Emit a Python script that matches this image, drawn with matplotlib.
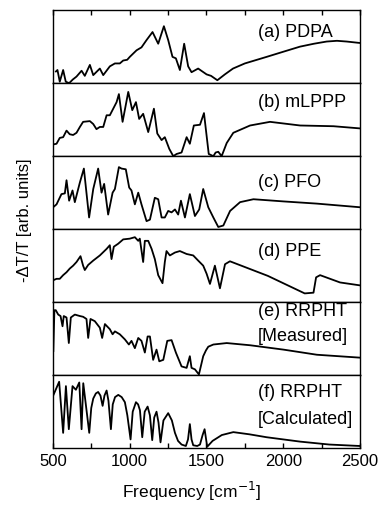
import matplotlib
matplotlib.use('Agg')
import matplotlib.pyplot as plt
from matplotlib.ticker import MultipleLocator

plt.rcParams['font.family'] = ['Liberation Sans', 'DejaVu Sans']

# spectra: frequency (cm-1) and relative height in panel (0..1)
pdpa_f = [520, 530, 545, 567, 584, 606, 630, 654, 687, 708, 741, 763, 806, 828,
          871, 904, 936, 958, 984, 1001, 1045, 1077, 1110, 1149, 1186, 1223, 1251,
          1279, 1301, 1327, 1355, 1381, 1403, 1446, 1501, 1530, 1571, 1620, 1673,
          1750, 1892, 2000, 2109, 2200, 2283, 2350, 2413, 2500]
pdpa_v = [0.16, 0.18, 0.02, 0.18, 0.02, 0.0, 0.05, 0.09, 0.17, 0.10, 0.25, 0.11,
          0.20, 0.11, 0.23, 0.27, 0.27, 0.31, 0.32, 0.36, 0.45, 0.49, 0.59, 0.70,
          0.54, 0.78, 0.59, 0.36, 0.34, 0.18, 0.54, 0.23, 0.15, 0.20, 0.12, 0.10,
          0.04, 0.12, 0.20, 0.27, 0.36, 0.43, 0.50, 0.54, 0.57, 0.58, 0.57, 0.55]

mlppp_f = [502, 524, 545, 567, 589, 610, 632, 654, 676, 697, 741, 763, 784, 806,
           828, 850, 871, 893, 915, 930, 954, 991, 1017, 1041, 1062, 1088, 1121,
           1158, 1180, 1208, 1229, 1258, 1284, 1306, 1338, 1371, 1392, 1418, 1458,
           1484, 1500, 1515, 1545, 1560, 1577, 1599, 1632, 1675, 1784, 1914, 2110,
           2327, 2500]
mlppp_v = [0.16, 0.17, 0.25, 0.26, 0.35, 0.30, 0.29, 0.32, 0.40, 0.47, 0.48, 0.44,
           0.37, 0.40, 0.40, 0.56, 0.56, 0.65, 0.74, 0.85, 0.47, 0.88, 0.63, 0.74,
           0.51, 0.58, 0.33, 0.65, 0.31, 0.22, 0.26, 0.10, 0.0, 0.03, 0.05, 0.26,
           0.17, 0.42, 0.43, 0.59, 0.30, 0.03, 0.0, 0.05, 0.06, 0.0, 0.18, 0.32,
           0.42, 0.47, 0.42, 0.41, 0.38]

pfo_f = [502, 524, 556, 578, 589, 606, 628, 643, 676, 702, 736, 763, 795, 817,
         834, 860, 889, 904, 930, 947, 975, 997, 1012, 1034, 1056, 1077, 1110,
         1132, 1164, 1186, 1208, 1229, 1251, 1273, 1295, 1316, 1334, 1360, 1392,
         1425, 1453, 1479, 1512, 1545, 1577, 1610, 1654, 1719, 1806, 2002, 2219,
         2500]
pfo_v = [0.30, 0.34, 0.48, 0.49, 0.67, 0.39, 0.53, 0.37, 0.64, 0.83, 0.16, 0.55,
         0.83, 0.50, 0.62, 0.20, 0.50, 0.55, 0.85, 0.83, 0.82, 0.57, 0.53, 0.34,
         0.50, 0.34, 0.11, 0.13, 0.43, 0.41, 0.16, 0.16, 0.25, 0.23, 0.27, 0.20,
         0.39, 0.16, 0.48, 0.18, 0.27, 0.55, 0.30, 0.16, 0.03, 0.05, 0.25, 0.37,
         0.41, 0.38, 0.35, 0.30]

ppe_f = [502, 524, 545, 567, 589, 610, 632, 654, 680, 697, 708, 730, 763, 806,
         850, 871, 882, 897, 925, 958, 1001, 1034, 1056, 1066, 1088, 1099, 1121,
         1143, 1164, 1186, 1214, 1229, 1240, 1262, 1295, 1327, 1371, 1414, 1446,
         1479, 1501, 1523, 1555, 1588, 1621, 1653, 1900, 2140, 2197, 2214, 2240,
         2370, 2500]
ppe_v = [0.30, 0.32, 0.32, 0.37, 0.41, 0.46, 0.50, 0.55, 0.63, 0.50, 0.44, 0.51,
         0.57, 0.64, 0.73, 0.78, 0.59, 0.76, 0.80, 0.86, 0.87, 0.89, 0.84, 0.87,
         0.55, 0.84, 0.84, 0.73, 0.59, 0.37, 0.26, 0.55, 0.70, 0.64, 0.68, 0.70,
         0.66, 0.64, 0.57, 0.50, 0.39, 0.25, 0.50, 0.19, 0.52, 0.56, 0.36, 0.12,
         0.13, 0.34, 0.37, 0.27, 0.23]

meas_f = [503, 510, 519, 535, 550, 563, 571, 589, 604, 617, 643, 676, 697, 719,
          730, 745, 773, 806, 821, 839, 871, 889, 904, 936, 969, 995, 1012, 1034,
          1056, 1077, 1099, 1117, 1132, 1153, 1175, 1193, 1219, 1245, 1273, 1301,
          1338, 1371, 1392, 1403, 1425, 1451, 1479, 1497, 1512, 1545, 1632, 1784,
          2002, 2219, 2500]
meas_v = [0.33, 0.89, 0.89, 0.83, 0.81, 0.67, 0.81, 0.79, 0.44, 0.79, 0.83, 0.81,
          0.80, 0.77, 0.51, 0.77, 0.74, 0.65, 0.51, 0.70, 0.63, 0.56, 0.60, 0.56,
          0.49, 0.42, 0.47, 0.37, 0.51, 0.47, 0.31, 0.53, 0.53, 0.21, 0.35, 0.19,
          0.21, 0.47, 0.48, 0.31, 0.12, 0.10, 0.26, 0.10, 0.08, 0.01, 0.26, 0.34,
          0.39, 0.42, 0.44, 0.41, 0.35, 0.28, 0.24]

calc_f = [502, 541, 567, 585, 604, 628, 650, 672, 687, 698, 737, 750, 763, 780,
          795, 810, 824, 836, 850, 862, 878, 890, 905, 926, 948, 969, 985, 1006,
          1020, 1041, 1055, 1067, 1082, 1098, 1117, 1132, 1147, 1160, 1175, 1188,
          1201, 1220, 1251, 1275, 1295, 1315, 1338, 1366, 1380, 1392, 1403, 1414,
          1440, 1458, 1475, 1488, 1505, 1540, 1600, 1675, 1780, 1892, 2110, 2300,
          2500]
calc_v = [0.72, 0.91, 0.21, 0.85, 0.26, 0.85, 0.80, 0.90, 0.26, 0.89, 0.21, 0.55,
          0.68, 0.75, 0.77, 0.72, 0.58, 0.72, 0.79, 0.65, 0.26, 0.60, 0.70, 0.73,
          0.70, 0.63, 0.45, 0.12, 0.50, 0.63, 0.60, 0.52, 0.15, 0.50, 0.57, 0.45,
          0.11, 0.42, 0.50, 0.35, 0.08, 0.38, 0.48, 0.38, 0.21, 0.10, 0.05, 0.03,
          0.12, 0.33, 0.12, 0.04, 0.03, 0.05, 0.18, 0.26, 0.02, 0.10, 0.18, 0.22,
          0.19, 0.15, 0.09, 0.05, 0.03]

spectra = [(pdpa_f, pdpa_v), (mlppp_f, mlppp_v), (pfo_f, pfo_v),
           (ppe_f, ppe_v), (meas_f, meas_v), (calc_f, calc_v)]
labels = [['(a) PDPA'], ['(b) mLPPP'], ['(c) PFO'], ['(d) PPE'],
          ['(e) RRPHT', '[Measured]'], ['(f) RRPHT', '[Calculated]']]
label_y = [[0.70], [0.74], [0.64], [0.70], [0.87, 0.53], [0.76, 0.39]]

fig, axes = plt.subplots(6, 1, figsize=(3.83, 5.07), dpi=100, sharex=True)
fig.subplots_adjust(left=0.138, right=0.94, top=0.980, bottom=0.116, hspace=0)

for i, ax in enumerate(axes):
    f, v = spectra[i]
    ax.plot(f, v, color='black', lw=1.3)
    ax.set_xlim(500, 2500)
    ax.set_ylim(0, 1)
    ax.set_yticks([])
    for s in ax.spines.values():
        s.set_linewidth(1.0)
    for txt, y in zip(labels[i], label_y[i]):
        ax.text(0.668, y, txt, transform=ax.transAxes, fontsize=13,
                ha='left', va='center')
    ax.tick_params(axis='x', which='both', direction='in', length=3.5,
                   width=1.0, top=(i == 0), bottom=(i == 5))

axes[-1].xaxis.set_major_locator(MultipleLocator(500))
axes[-1].xaxis.set_minor_locator(MultipleLocator(250))
axes[-1].tick_params(axis='x', labelsize=12, pad=4)
axes[-1].set_xlabel('Frequency [cm$^{-1}$]', fontsize=12.5)
axes[-1].xaxis.set_label_coords(0.45, -0.44)

fig.text(0.063, 0.566, '-ΔT/T [arb. units]', rotation=90, fontsize=12,
         ha='center', va='center')

fig.savefig('out.png', dpi=100)
